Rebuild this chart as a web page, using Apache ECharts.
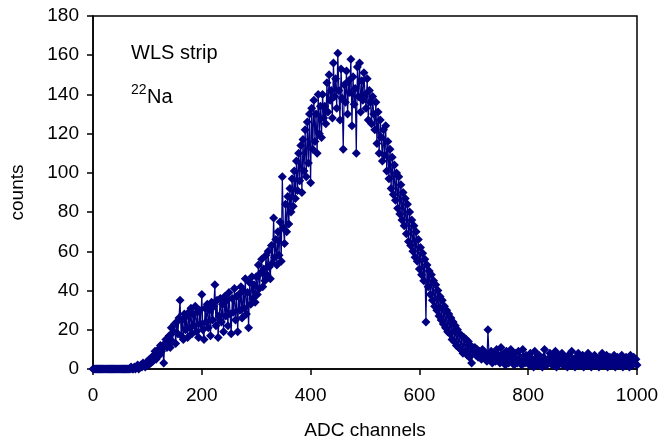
<!DOCTYPE html>
<html>
<head>
<meta charset="utf-8">
<script src="https://cdn.jsdelivr.net/npm/echarts@6/dist/echarts.min.js"></script>
<style>
  html, body { margin: 0; padding: 0; background: #fff; }
  #chart { width: 662px; height: 445px; }
</style>
</head>
<body>
<div id="chart"></div>
<script>
// spectrum, one value every 2 ADC channels (0..1000)
const binWidth = 2
const counts = [
  0, 0, 0, 0, 0, 0, 0, 0, 0, 0,
  0, 0, 0, 0, 0, 0, 0, 0, 0, 0,
  0, 0, 0, 0, 0, 0, 0, 0, 0, 0,
  0, 0, 0, 0, 0, 1, 0, 0, 1, 0,
  1, 2, 0, 1, 2, 1, 3, 2, 1, 3,
  4, 2, 5, 3, 6, 4, 7, 9, 5, 8,
  10, 7, 12, 9, 11, 3, 13, 15, 11, 14,
  17, 11, 21, 14, 19, 23, 13, 24, 18, 26,
  35, 17, 25, 15, 28, 20, 27, 16, 29, 21,
  31, 18, 28, 22, 32, 19, 29, 16, 30, 23,
  38, 20, 15, 31, 24, 33, 21, 30, 17, 34,
  25, 32, 43, 22, 35, 16, 27, 36, 24, 33,
  19, 37, 27, 35, 22, 39, 28, 18, 36, 29,
  41, 25, 37, 19, 38, 30, 42, 26, 40, 31,
  46, 28, 39, 21, 44, 33, 47, 36, 43, 34,
  47, 38, 53, 41, 49, 56, 42, 51, 45, 58,
  48, 60, 52, 46, 63, 54, 77, 57, 66, 53,
  70, 58, 75, 55, 98, 72, 64, 84, 70, 88,
  74, 92, 80, 97, 83, 101, 87, 106, 91, 110,
  96, 114, 90, 117, 101, 122, 98, 126, 105, 130,
  95, 133, 112, 137, 116, 130, 110, 140, 120, 134,
  118, 140, 128, 134, 125, 146, 131, 150, 137, 142,
  128, 156, 139, 148, 133, 161, 142, 127, 153, 138,
  112, 145, 136, 152, 130, 147, 141, 158, 124, 149,
  135, 143, 110, 154, 139, 156, 131, 147, 137, 151,
  140, 133, 148, 127, 142, 136, 125, 139, 130, 122,
  136, 115, 131, 110, 127, 118, 106, 122, 109, 124,
  101, 116, 97, 112, 92, 108, 89, 104, 86, 100,
  82, 98, 79, 94, 76, 90, 73, 87, 69, 84,
  65, 80, 63, 76, 60, 73, 57, 70, 55, 66,
  51, 62, 48, 59, 45, 56, 24, 53, 42, 50,
  38, 48, 35, 45, 32, 43, 30, 40, 27, 37,
  25, 35, 23, 32, 21, 30, 19, 28, 18, 26,
  15, 24, 14, 22, 12, 20, 11, 18, 10, 17,
  8, 16, 9, 15, 7, 14, 6, 12, 3, 11,
  9, 11, 7, 10, 6, 9, 8, 5, 10, 7,
  6, 8, 4, 20, 7, 5, 9, 3, 8, 6,
  4, 10, 5, 7, 3, 11, 6, 4, 8, 2,
  9, 5, 3, 7, 10, 4, 6, 2, 8, 5,
  3, 9, 4, 6, 2, 10, 5, 3, 7, 4,
  6, 2, 8, 3, 5, 1, 9, 4, 6, 2,
  7, 3, 5, 1, 6, 10, 4, 2, 5, 3,
  8, 4, 2, 6, 3, 9, 1, 5, 7, 3,
  4, 8, 2, 6, 3, 5, 1, 7, 4, 2,
  9, 3, 5, 1, 6, 4, 8, 2, 5, 3,
  7, 1, 4, 6, 2, 8, 3, 5, 1, 6,
  4, 7, 2, 5, 3, 1, 6, 4, 8, 2,
  5, 3, 7, 1, 4, 6, 2, 5, 3, 7,
  1, 4, 6, 2, 5, 3, 7, 1, 4, 2,
  6, 3, 5, 1, 7, 4, 2, 6, 3, 5,
  2
]
const xTicks = [0, 200, 400, 600, 800, 1000]
const yTicks = [0, 20, 40, 60, 80, 100, 120, 140, 160, 180]

const points = counts.map(function(c, i) { return [i * binWidth, c] })

const font = 'Liberation Sans, Arial, sans-serif'
const myChart = echarts.init(document.getElementById('chart'))
const option = {
  animation: false,
  grid: {
    left: 90,
    right: 25,
    top: 16,
    bottom: 73,
    show: true,
    borderColor: '#000',
    borderWidth: 1.5
  },
  xAxis: {
    type: 'value',
    min: xTicks[0],
    max: xTicks[xTicks.length - 1],
    interval: 200,
    name: 'ADC channels',
    nameLocation: 'middle',
    nameGap: 52,
    nameTextStyle: { fontSize: 19, color: '#000', fontFamily: font },
    axisLine: { onZero: false, lineStyle: { color: '#000', width: 1.5 } },
    axisTick: { show: true, length: 6, inside: false, lineStyle: { color: '#000', width: 1.5 } },
    axisLabel: {
      fontSize: 19, color: '#000', fontFamily: font, margin: 17,
      formatter: function(v) { return String(v) }
    },
    splitLine: { show: false }
  },
  yAxis: {
    type: 'value',
    min: yTicks[0],
    max: yTicks[yTicks.length - 1],
    interval: 20,
    name: 'counts',
    nameLocation: 'middle',
    nameGap: 66,
    nameTextStyle: { fontSize: 19, color: '#000', fontFamily: font },
    axisLine: { show: true, lineStyle: { color: '#000', width: 1.5 } },
    axisTick: { show: true, length: 6, inside: false, lineStyle: { color: '#000', width: 1.5 } },
    axisLabel: { fontSize: 19, color: '#000', fontFamily: font, margin: 14 },
    splitLine: { show: false }
  },
  series: [{
    type: 'line',
    data: points,
    symbol: 'diamond',
    symbolSize: 9,
    showAllSymbol: true,
    clip: false,
    lineStyle: { color: '#000080', width: 1.2 },
    itemStyle: { color: '#000080', borderWidth: 0 }
  }],
  graphic: [
    {
      type: 'text',
      left: 131,
      top: 43,
      style: { text: 'WLS strip', fontSize: 20, fill: '#000', fontFamily: font }
    },
    {
      type: 'text',
      left: 131,
      top: 83,
      style: { text: '22', fontSize: 14, fill: '#000', fontFamily: font }
    },
    {
      type: 'text',
      left: 147,
      top: 87,
      style: { text: 'Na', fontSize: 20, fill: '#000', fontFamily: font }
    }
  ]
}
myChart.setOption(option)
</script>
</body>
</html>
